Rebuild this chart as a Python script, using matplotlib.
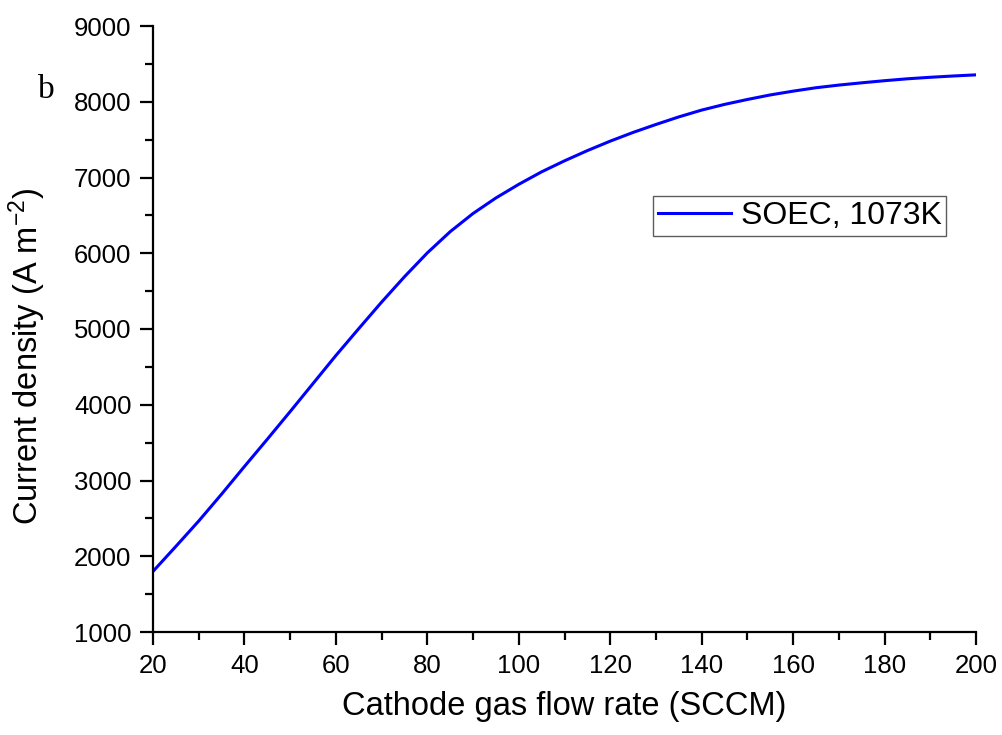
import matplotlib
matplotlib.use("Agg")
import matplotlib.pyplot as plt
from matplotlib.ticker import MultipleLocator

flow_rate = [20, 25, 30, 35, 40, 45, 50, 55, 60, 65, 70, 75, 80, 85, 90, 95, 100,
             105, 110, 115, 120, 125, 130, 135, 140, 145, 150, 155, 160, 165, 170,
             175, 180, 185, 190, 195, 200]
current_density = [1800, 2130, 2465, 2820, 3185, 3545, 3910, 4280, 4650, 5005, 5355,
                   5690, 6005, 6285, 6525, 6730, 6910, 7075, 7220, 7355, 7480, 7595,
                   7700, 7800, 7890, 7965, 8030, 8090, 8140, 8185, 8220, 8250, 8278,
                   8303, 8323, 8340, 8355]
series_label = "SOEC, 1073K"
x_ticks = [20, 40, 60, 80, 100, 120, 140, 160, 180, 200]
y_ticks = [1000, 2000, 3000, 4000, 5000, 6000, 7000, 8000, 9000]

plt.rcParams['font.family'] = ['Liberation Sans', 'DejaVu Sans']
plt.rcParams['mathtext.default'] = 'regular'

fig = plt.figure(figsize=(10.02, 7.35), dpi=100)
ax = fig.add_axes([153/1002, 1-632/735, (976-153)/1002, (632-26)/735])

ax.plot(flow_rate, current_density, color='#0000ff', lw=2.2, label=series_label)

ax.set_xlim(20, 200)
ax.set_ylim(1000, 9000)
ax.set_xticks(x_ticks)
ax.set_yticks(y_ticks)
ax.xaxis.set_minor_locator(MultipleLocator(10))
ax.yaxis.set_minor_locator(MultipleLocator(500))

for s in ['top', 'right']:
    ax.spines[s].set_visible(False)
for s in ['left', 'bottom']:
    ax.spines[s].set_linewidth(1.6)

ax.tick_params(which='major', direction='out', length=9.5, width=1.6, labelsize=18.5, pad=6)
ax.tick_params(which='minor', direction='out', length=5.5, width=1.6)

ax.set_xlabel("Cathode gas flow rate (SCCM)", fontsize=23.5)
ax.xaxis.set_label_coords(0.5, -0.098)
ax.set_ylabel("Current density (A m$^{-2}$)", fontsize=23.5)
ax.yaxis.set_label_coords(-0.127, 0.455)

leg = ax.legend(loc='upper left', bbox_to_anchor=(0.6075, 0.7195), borderaxespad=0,
                fontsize=23, frameon=True, fancybox=False, handlelength=2.3,
                borderpad=0.15, handletextpad=0.3)
leg.get_frame().set_edgecolor('#333333')
leg.get_frame().set_linewidth(1.0)

fig.text(46/1002, 1-90/735, "b", fontsize=24, family=['Liberation Serif'],
         ha='center', va='center')

fig.savefig("out.png", dpi=100)
